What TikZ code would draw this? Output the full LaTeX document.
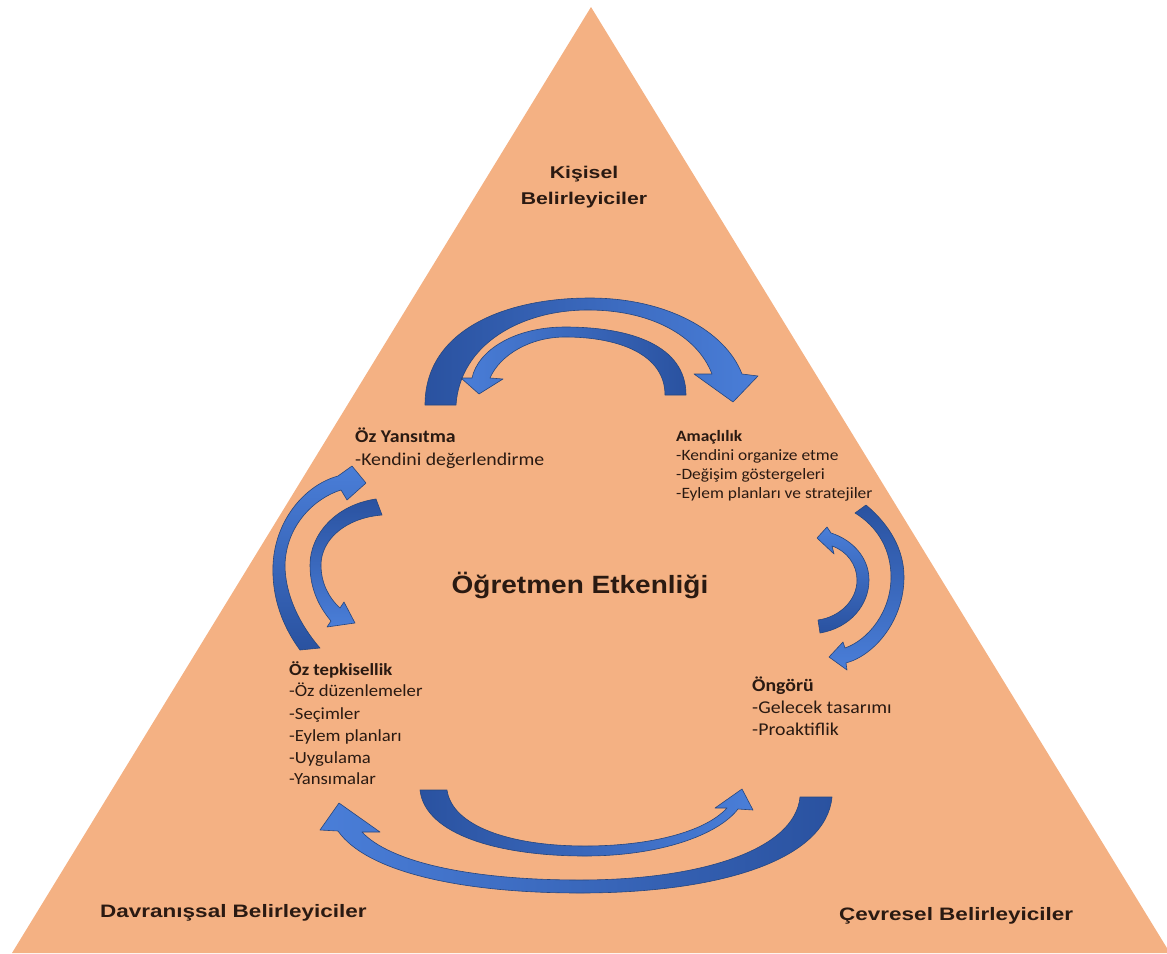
\documentclass[tikz,border=0pt]{standalone}
\usepackage{fontspec}
\setmainfont{Carlito}
\newfontfamily\lblfont[FakeStretch=1.25]{Liberation Sans}
\newfontfamily\ttlfont[FakeStretch=1.12]{Liberation Sans}
\newfontfamily\bodyfont[FakeStretch=1.1]{Carlito}
\definecolor{trifill}{HTML}{F4B183}
\definecolor{txt}{HTML}{2A1A12}
\definecolor{bdark}{HTML}{2A52A0}
\definecolor{blight}{HTML}{4A7ED8}
\definecolor{bedge}{HTML}{25467F}
\tikzset{
  tri/.style={fill=trifill, draw=none},
  lbl/.style={font=\lblfont\bfseries\fontsize{18}{22}\selectfont, text=txt, inner sep=0pt},
  klbl/.style={font=\lblfont\bfseries\fontsize{17}{22}\selectfont, text=txt, inner sep=0pt, anchor=base},
  ttl/.style={font=\ttlfont\bfseries\fontsize{25}{30}\selectfont, text=txt, inner sep=0pt, anchor=base},
  head/.style={font=\bodyfont\bfseries, text=txt, inner sep=0pt, anchor=base west},
  body/.style={font=\bodyfont, text=txt, inner sep=0pt, anchor=base west},
  szA/.style={font=\bodyfont\fontsize{15.8}{19}\selectfont},
  szB/.style={font=\bodyfont\fontsize{18}{22}\selectfont},
  szC/.style={font=\bodyfont\fontsize{17}{22}\selectfont},
  barrow/.style={draw=bedge, line width=0.6pt, line join=round}
}
\begin{document}
\begin{tikzpicture}[x=1pt,y=-1pt]
\useasboundingbox (0,0) rectangle (1167,953);
\fill[tri] (591,7) -- (12,953) -- (1170,953) -- cycle;

% labels
\node[klbl] (kis1) at (584,178) {Kişisel};
\node[klbl] (kis2) at (584,204) {Belirleyiciler};
\node[lbl, anchor=base west] (dav) at (100,917) {Davranışsal Belirleyiciler};
\node[lbl, anchor=base west] (cev) at (839,920) {Çevresel Belirleyiciler};
\node[ttl] (title) at (580,593) {Öğretmen Etkenliği};

% Öz Yansıtma
\node[head, szB] (yh) at (355,442) {\bfseries Öz Yansıtma};
\node[body, szB] (y1) at (355,465) {-Kendini değerlendirme};
% Amaçlılık
\node[head, szA] (ah) at (676,441) {\bfseries Amaçlılık};
\node[body, szA] (a1) at (676,460) {-Kendini organize etme};
\node[body, szA] (a2) at (676,479) {-Değişim göstergeleri};
\node[body, szA] (a3) at (676,498) {-Eylem planları ve stratejiler};
% Öz tepkisellik
\node[head, szC] (th) at (289,675) {\bfseries Öz tepkisellik};
\node[body, szC] (t1) at (289,696) {-Öz düzenlemeler};
\node[body, szC] (t2) at (289,719) {-Seçimler};
\node[body, szC] (t3) at (289,741) {-Eylem planları};
\node[body, szC] (t4) at (289,763) {-Uygulama};
\node[body, szC] (t5) at (289,784) {-Yansımalar};
% Öngörü
\node[head, szB] (oh) at (752,691) {\bfseries Öngörü};
\node[body, szB] (o1) at (752,713) {-Gelecek tasarımı};
\node[body, szB] (o2) at (752,735) {-Proaktiflik};

% top big arrow (left -> right)
\path[barrow, left color=bdark, right color=blight]
 (425,405) .. controls (425,330) and (505,298) .. (590,298)
 .. controls (665,298) and (725,330) .. (742,374)
 -- (758,376) -- (733,402) -- (694,374) -- (712,374)
 .. controls (697,335) and (650,310) .. (588,310)
 .. controls (520,310) and (460,345) .. (456,405) -- cycle;
% top small arrow (right -> left)
\path[barrow, left color=blight, right color=bdark]
 (686,395) .. controls (686,345) and (630,327) .. (565,327)
 .. controls (515,327) and (478,350) .. (472,378)
 -- (461,378) -- (479,394) -- (503,379) -- (490,378)
 .. controls (500,355) and (530,337) .. (565,337)
 .. controls (620,337) and (665,355) .. (665,395) -- cycle;
% left outer arrow (bottom -> top)
\path[barrow, top color=blight, bottom color=bdark]
 (300,650) .. controls (278,620) and (272,590) .. (273,565)
 .. controls (275,520) and (305,485) .. (338,476)
 -- (352,466) -- (366,483) -- (347,500) -- (341,490)
 .. controls (315,498) and (286,525) .. (285,565)
 .. controls (285,595) and (300,625) .. (320,648) -- cycle;
% left inner arrow (top -> bottom)
\path[barrow, top color=bdark, bottom color=blight]
 (376,499) .. controls (335,505) and (310,535) .. (310,565)
 .. controls (310,590) and (320,608) .. (331,621)
 -- (327,627) -- (355,623) -- (344,602) -- (340,608)
 .. controls (328,597) and (321,582) .. (321,565)
 .. controls (321,540) and (345,518) .. (382,515) -- cycle;
% right outer arrow (top -> bottom)
\path[barrow, top color=bdark, bottom color=blight]
 (866,505) .. controls (890,525) and (904,550) .. (904,577)
 .. controls (904,620) and (875,655) .. (846,663)
 -- (847,670) -- (829,657) -- (843,642) -- (845,648)
 .. controls (868,640) and (891,612) .. (891,577)
 .. controls (891,550) and (878,527) .. (855,513) -- cycle;
% right inner arrow (bottom -> top)
\path[barrow, top color=blight, bottom color=bdark]
 (820,633) .. controls (850,628) and (869,605) .. (869,580)
 .. controls (869,558) and (853,540) .. (831,533)
 -- (827,527) -- (817,538) -- (834,554) -- (832,546)
 .. controls (847,551) and (857,565) .. (857,580)
 .. controls (857,600) and (840,617) .. (818,620) -- cycle;
% bottom outer arrow (right -> left)
\path[barrow, left color=blight, right color=bdark]
 (832,797) .. controls (826,860) and (720,893) .. (580,893)
 .. controls (455,893) and (365,870) .. (338,831)
 -- (320,830) -- (339,803) -- (380,832) -- (362,832)
 .. controls (390,862) and (470,880) .. (580,880)
 .. controls (700,880) and (795,850) .. (800,797) -- cycle;
% bottom inner arrow (left -> right)
\path[barrow, left color=bdark, right color=blight]
 (420,790) .. controls (425,835) and (500,856) .. (585,856)
 .. controls (660,856) and (718,835) .. (738,809)
 -- (753,810) -- (742,789) -- (715,808) -- (727,808)
 .. controls (705,832) and (650,846) .. (585,846)
 .. controls (510,846) and (452,826) .. (447,790) -- cycle;
\end{tikzpicture}
\end{document}
